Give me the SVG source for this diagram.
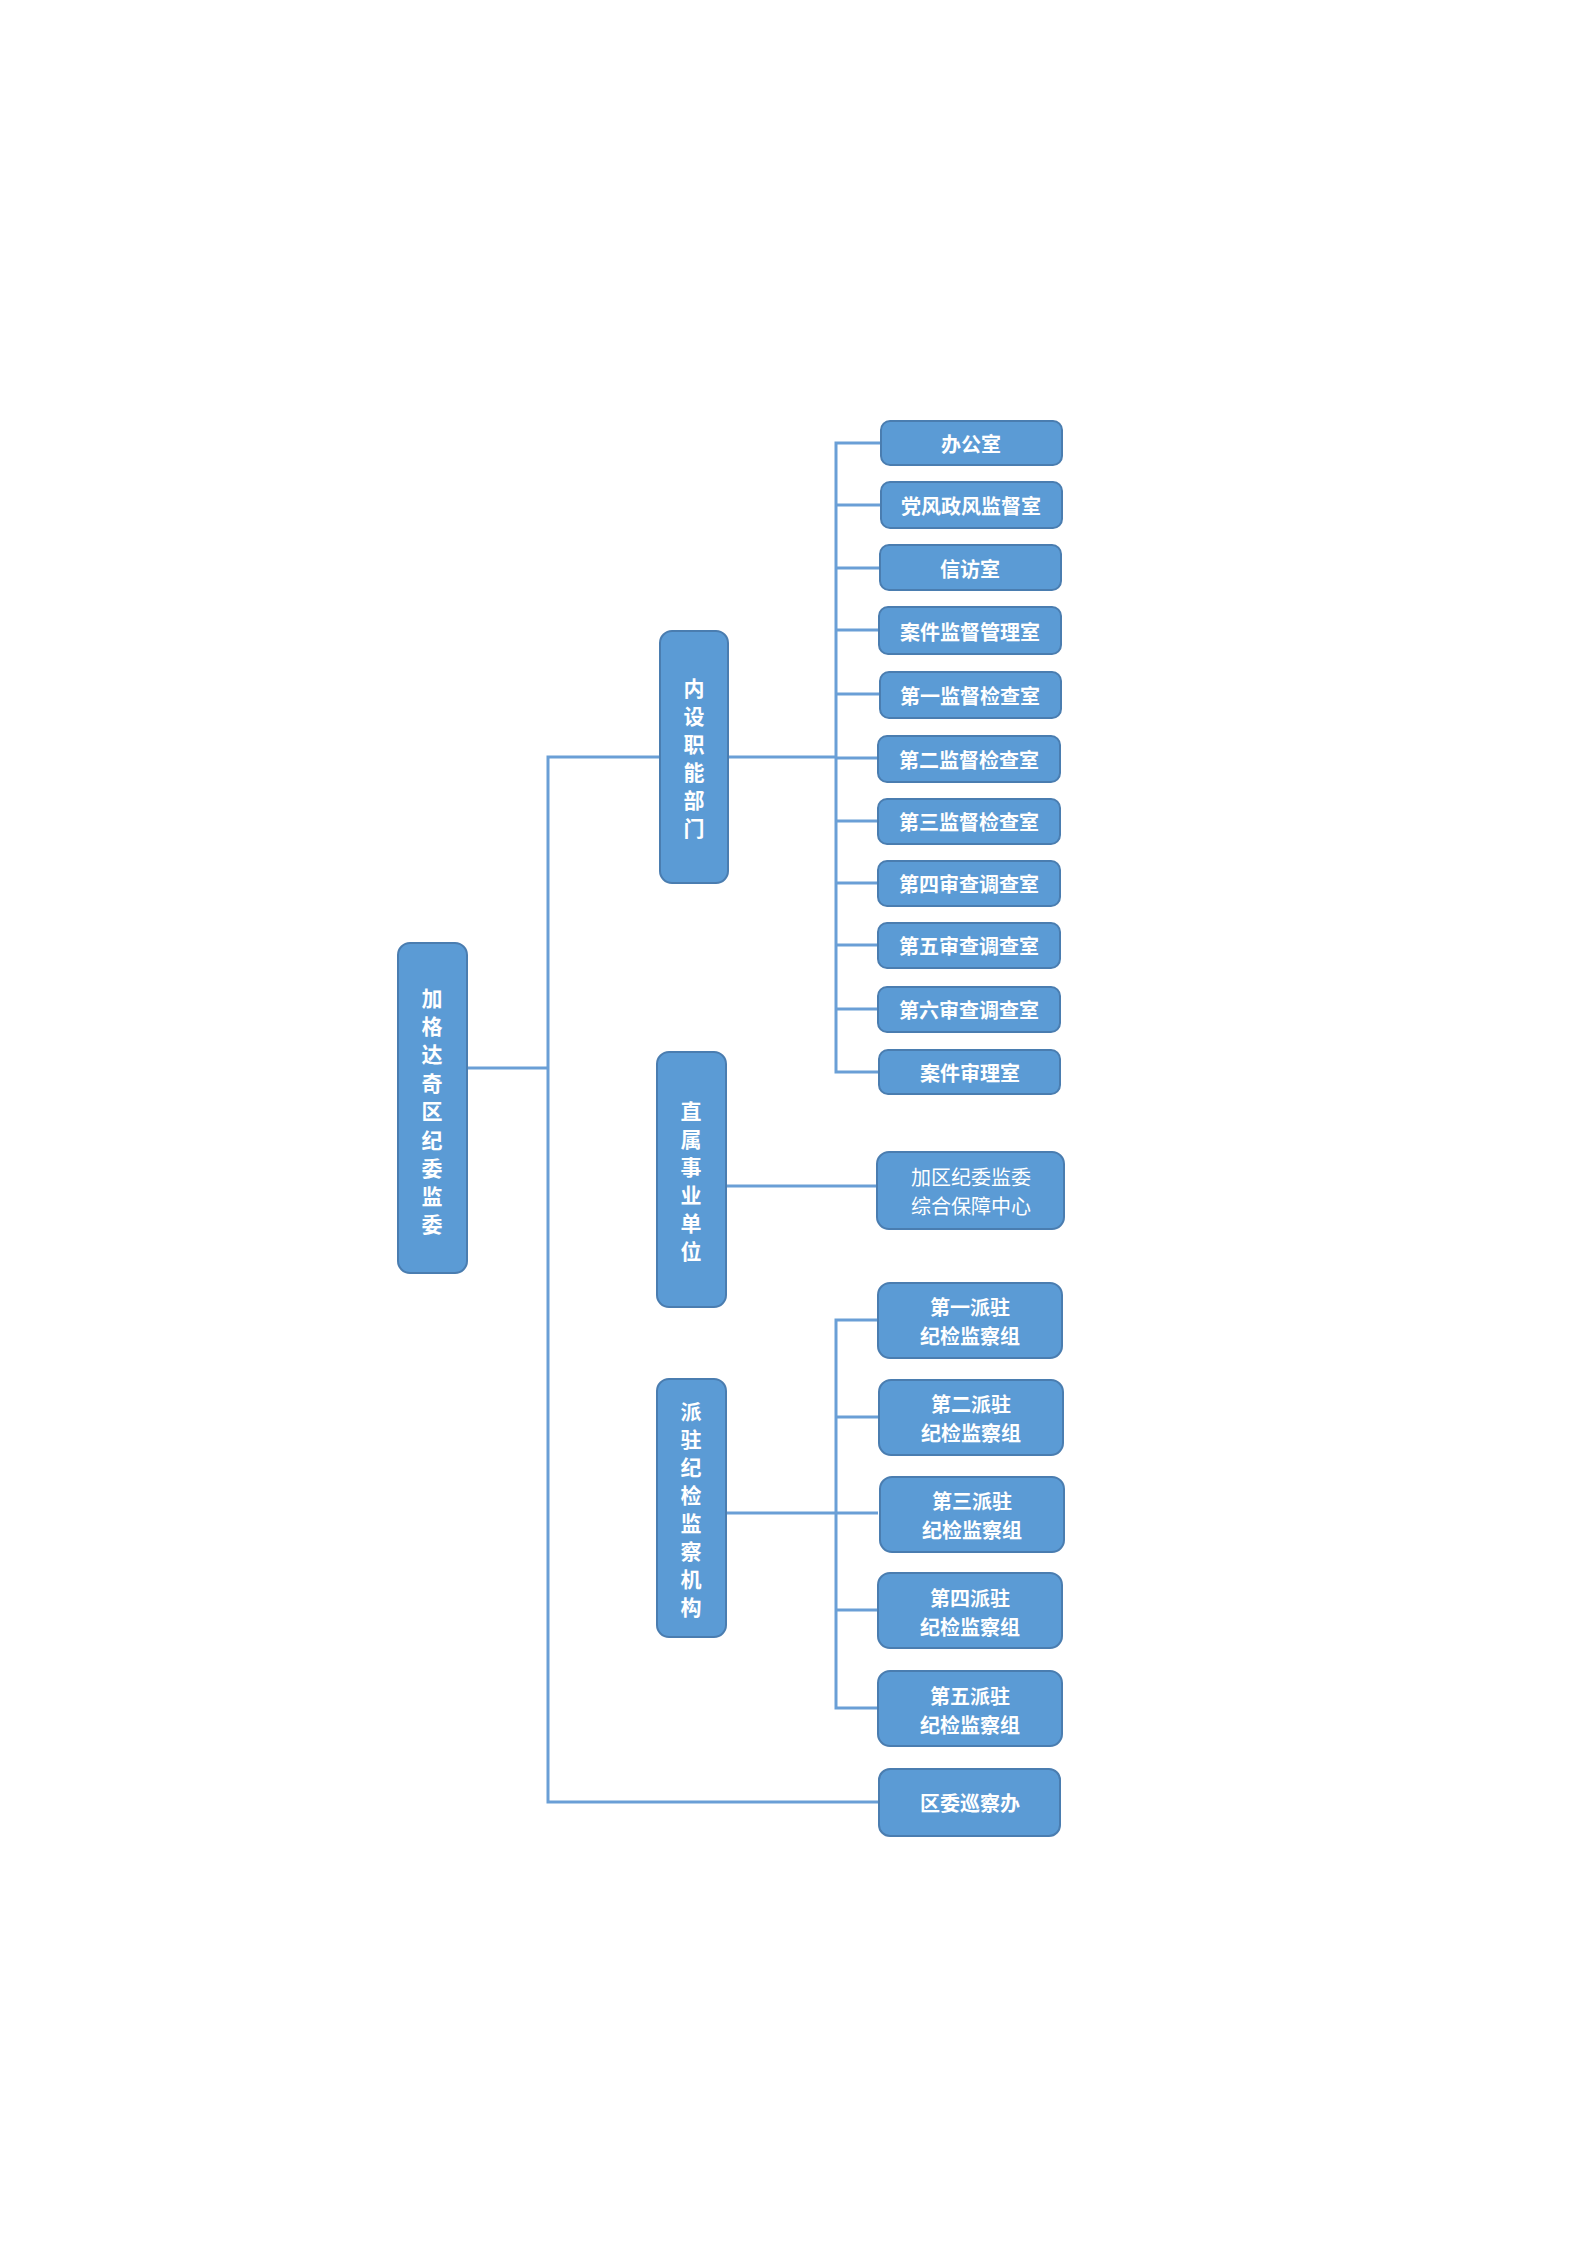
<svg xmlns="http://www.w3.org/2000/svg" width="1587" height="2245" viewBox="0 0 1587 2245">
<style>
.box{fill:#5B9BD5;stroke:#4A7DB0;stroke-width:2}
.t{fill:#FFFFFF;font-family:"Noto Sans CJK SC","Noto Sans",sans-serif;font-weight:bold;font-size:20px;text-anchor:middle;dominant-baseline:central}
.v{font-size:21px}
.r{font-weight:normal;font-size:20px}
.ln{fill:none;stroke:#6A9FD6;stroke-width:3}
</style>
<rect width="1587" height="2245" fill="#FFFFFF"/>
<g id="connectors">
<polyline class="ln" points="467,1068 548,1068"/>
<polyline class="ln" points="660,757 548,757 548,1802 879,1802"/>
<polyline class="ln" points="728,757 836,757"/>
<polyline class="ln" points="880,443 836,443 836,1072 880,1072"/>
<line class="ln" x1="836" y1="505" x2="880" y2="505"/>
<line class="ln" x1="836" y1="568" x2="880" y2="568"/>
<line class="ln" x1="836" y1="630" x2="880" y2="630"/>
<line class="ln" x1="836" y1="694" x2="880" y2="694"/>
<line class="ln" x1="836" y1="758" x2="880" y2="758"/>
<line class="ln" x1="836" y1="821" x2="880" y2="821"/>
<line class="ln" x1="836" y1="883" x2="880" y2="883"/>
<line class="ln" x1="836" y1="945" x2="880" y2="945"/>
<line class="ln" x1="836" y1="1009" x2="880" y2="1009"/>
<line class="ln" x1="726" y1="1186" x2="877" y2="1186"/>
<polyline class="ln" points="878,1320 836,1320 836,1708 878,1708"/>
<line class="ln" x1="836" y1="1417" x2="878" y2="1417"/>
<line class="ln" x1="726" y1="1513" x2="878" y2="1513"/>
<line class="ln" x1="836" y1="1610" x2="878" y2="1610"/>
</g>
<g id="root">
<rect class="box" x="398" y="943" width="69" height="330" rx="12"/>
<text class="t v"><tspan x="432" y="997">加</tspan><tspan x="432" y="1025">格</tspan><tspan x="432" y="1053">达</tspan><tspan x="432" y="1082">奇</tspan><tspan x="432" y="1110">区</tspan><tspan x="432" y="1139">纪</tspan><tspan x="432" y="1167">委</tspan><tspan x="432" y="1195">监</tspan><tspan x="432" y="1223">委</tspan></text>
</g>
<g id="neishe">
<rect class="box" x="660" y="631" width="68" height="252" rx="12"/>
<text class="t v"><tspan x="694" y="687">内</tspan><tspan x="694" y="715">设</tspan><tspan x="694" y="743">职</tspan><tspan x="694" y="771">能</tspan><tspan x="694" y="799">部</tspan><tspan x="694" y="827">门</tspan></text>
</g>
<g id="zhishu">
<rect class="box" x="657" y="1052" width="69" height="255" rx="12"/>
<text class="t v"><tspan x="691" y="1110">直</tspan><tspan x="691" y="1138">属</tspan><tspan x="691" y="1166">事</tspan><tspan x="691" y="1194">业</tspan><tspan x="691" y="1222">单</tspan><tspan x="691" y="1250">位</tspan></text>
</g>
<g id="paizhu">
<rect class="box" x="657" y="1379" width="69" height="258" rx="12"/>
<text class="t v"><tspan x="691" y="1410">派</tspan><tspan x="691" y="1438">驻</tspan><tspan x="691" y="1466">纪</tspan><tspan x="691" y="1494">检</tspan><tspan x="691" y="1522">监</tspan><tspan x="691" y="1550">察</tspan><tspan x="691" y="1578">机</tspan><tspan x="691" y="1606">构</tspan></text>
</g>
<g id="n1"><rect class="box" x="881" y="421" width="181" height="44" rx="9"/><text class="t" x="971" y="443">办公室</text></g>
<g id="n2"><rect class="box" x="881" y="482" width="181" height="46" rx="9"/><text class="t" x="971" y="505">党风政风监督室</text></g>
<g id="n3"><rect class="box" x="880" y="545" width="181" height="45" rx="9"/><text class="t" x="970" y="568">信访室</text></g>
<g id="n4"><rect class="box" x="879" y="607" width="182" height="47" rx="9"/><text class="t" x="970" y="631">案件监督管理室</text></g>
<g id="n5"><rect class="box" x="880" y="672" width="181" height="46" rx="9"/><text class="t" x="970" y="695">第一监督检查室</text></g>
<g id="n6"><rect class="box" x="878" y="736" width="182" height="46" rx="9"/><text class="t" x="969" y="759">第二监督检查室</text></g>
<g id="n7"><rect class="box" x="878" y="799" width="182" height="45" rx="9"/><text class="t" x="969" y="821">第三监督检查室</text></g>
<g id="n8"><rect class="box" x="878" y="861" width="182" height="45" rx="9"/><text class="t" x="969" y="883">第四审查调查室</text></g>
<g id="n9"><rect class="box" x="878" y="923" width="182" height="45" rx="9"/><text class="t" x="969" y="945">第五审查调查室</text></g>
<g id="n10"><rect class="box" x="878" y="987" width="182" height="45" rx="9"/><text class="t" x="969" y="1009">第六审查调查室</text></g>
<g id="n11"><rect class="box" x="879" y="1050" width="181" height="44" rx="9"/><text class="t" x="970" y="1072">案件审理室</text></g>
<g id="n12"><rect class="box" x="877" y="1152" width="187" height="77" rx="12"/><text class="t r" x="971" y="1176">加区纪委监委</text><text class="t r" x="971" y="1205">综合保障中心</text></g>
<g id="p1"><rect class="box" x="878" y="1283" width="184" height="75" rx="12"/><text class="t" x="970" y="1306">第一派驻</text><text class="t" x="970" y="1335">纪检监察组</text></g>
<g id="p2"><rect class="box" x="879" y="1380" width="184" height="75" rx="12"/><text class="t" x="971" y="1403">第二派驻</text><text class="t" x="971" y="1432">纪检监察组</text></g>
<g id="p3"><rect class="box" x="880" y="1477" width="184" height="75" rx="12"/><text class="t" x="972" y="1500">第三派驻</text><text class="t" x="972" y="1529">纪检监察组</text></g>
<g id="p4"><rect class="box" x="878" y="1573" width="184" height="75" rx="12"/><text class="t" x="970" y="1597">第四派驻</text><text class="t" x="970" y="1626">纪检监察组</text></g>
<g id="p5"><rect class="box" x="878" y="1671" width="184" height="75" rx="12"/><text class="t" x="970" y="1695">第五派驻</text><text class="t" x="970" y="1724">纪检监察组</text></g>
<g id="xuncha"><rect class="box" x="879" y="1769" width="181" height="67" rx="11"/><text class="t" x="970" y="1802">区委巡察办</text></g>
</svg>
